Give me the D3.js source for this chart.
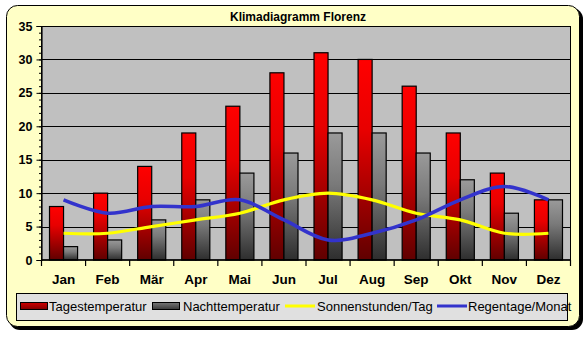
<!DOCTYPE html>
<html>
<head>
<meta charset="utf-8">
<script src="https://cdn.jsdelivr.net/npm/d3@7/dist/d3.min.js"></script>
<style>
  html, body { margin: 0; padding: 0; background: #ffffff; }
  svg { display: block; }
  text { font-family: "Liberation Sans", Arial, sans-serif; }
</style>
</head>
<body>
<svg id="chart" width="588" height="337"></svg>
<script>
// Klimadiagramm Florenz: Temperaturen als Säulen, Sonnenstunden und Regentage als Linien
const months = ["Jan", "Feb", "Mär", "Apr", "Mai", "Jun", "Jul", "Aug", "Sep", "Okt", "Nov", "Dez"];
const tagestemperatur = [8, 10, 14, 19, 23, 28, 31, 30, 26, 19, 13, 9];
const nachttemperatur = [2, 3, 6, 9, 13, 16, 19, 19, 16, 12, 7, 9];
const sonnenstunden = [4, 4, 5, 6, 7, 9, 10, 9, 7, 6, 4, 4];
const regentage = [9, 7, 8, 8, 9, 6, 3, 4, 6, 9, 11, 9];
const yTicks = [0, 5, 10, 15, 20, 25, 30, 35];
const title = "Klimadiagramm Florenz";
const legendLabels = ["Tagestemperatur", "Nachttemperatur", "Sonnenstunden/Tag", "Regentage/Monat"];

const svg = d3.select("#chart");
const defs = svg.append("defs");

// vertical gradients for the columns
function vGrad(id, stops) {
  const g = defs.append("linearGradient").attr("id", id)
    .attr("x1", 0).attr("y1", 0).attr("x2", 0).attr("y2", 1);
  stops.forEach(s => g.append("stop").attr("offset", s[0]).attr("stop-color", s[1]));
}
vGrad("gradRed", [[0, "#ff0000"], [0.35, "#e80000"], [1, "#600000"]]);
vGrad("gradGray", [[0, "#9a9a9a"], [0.4, "#7a7a7a"], [1, "#2e2e2e"]]);
function hGrad(id, stops) {
  const g = defs.append("linearGradient").attr("id", id)
    .attr("x1", 0).attr("y1", 0).attr("x2", 0).attr("y2", 1);
  stops.forEach(s => g.append("stop").attr("offset", s[0]).attr("stop-color", s[1]));
}
hGrad("legRed", [[0, "#d00000"], [1, "#800000"]]);
hGrad("legGray", [[0, "#777777"], [1, "#3a3a3a"]]);

// chart frame with drop shadow
svg.append("rect").attr("x", 9).attr("y", 8).attr("width", 574).attr("height", 322)
  .attr("rx", 11).attr("fill", "#000");
svg.append("rect").attr("x", 6.5).attr("y", 5.5).attr("width", 573).attr("height", 321)
  .attr("rx", 11).attr("fill", "#ffffc6").attr("stroke", "#000").attr("stroke-width", 1);

// title
svg.append("text").attr("x", 298).attr("y", 21).attr("text-anchor", "middle")
  .attr("font-size", 12).attr("font-weight", "bold").text(title);

// scales
const plot = { left: 41.5, right: 570.5, top: 26, bottom: 260 };
const x = d3.scaleBand().domain(months).range([plot.left, plot.right]).padding(0);
const xs = d3.scaleBand().domain(["tag", "nacht"]).range([0, x.bandwidth()])
  .paddingInner(0).paddingOuter(0.57);
const y = d3.scaleLinear().domain([0, 35]).range([plot.bottom, plot.top]);

// plot area
svg.append("rect").attr("x", plot.left).attr("y", plot.top)
  .attr("width", plot.right - plot.left).attr("height", plot.bottom - plot.top)
  .attr("fill", "#c0c0c0");

// horizontal gridlines
svg.append("g").selectAll("line").data(yTicks.slice(1, -1)).join("line")
  .attr("x1", plot.left).attr("x2", plot.right)
  .attr("y1", d => Math.round(y(d)) + 0.5).attr("y2", d => Math.round(y(d)) + 0.5)
  .attr("stroke", "#000").attr("stroke-width", 1);

// columns
const data = months.map((m, i) => ({ m, tag: tagestemperatur[i], nacht: nachttemperatur[i] }));
const colG = svg.append("g");
colG.selectAll("rect.tag").data(data).join("rect").attr("class", "tag")
  .attr("x", d => x(d.m) + xs("tag")).attr("width", xs.bandwidth())
  .attr("y", d => y(d.tag)).attr("height", d => y(0) - y(d.tag))
  .attr("fill", "url(#gradRed)").attr("stroke", "#000").attr("stroke-width", 1.2);
colG.selectAll("rect.nacht").data(data).join("rect").attr("class", "nacht")
  .attr("x", d => x(d.m) + xs("nacht")).attr("width", xs.bandwidth())
  .attr("y", d => y(d.nacht)).attr("height", d => y(0) - y(d.nacht))
  .attr("fill", "url(#gradGray)").attr("stroke", "#000").attr("stroke-width", 1.2);

// smoothed lines
const line = d3.line()
  .x((d, i) => x(months[i]) + x.bandwidth() / 2)
  .y(d => y(d))
  .curve(d3.curveCardinal.tension(0));
svg.append("path").datum(sonnenstunden).attr("d", line)
  .attr("fill", "none").attr("stroke", "#ffff00").attr("stroke-width", 3.2);
svg.append("path").datum(regentage).attr("d", line)
  .attr("fill", "none").attr("stroke", "#3333cc").attr("stroke-width", 3.6);

// plot border
svg.append("rect").attr("x", plot.left).attr("y", plot.top + 0.5)
  .attr("width", plot.right - plot.left).attr("height", plot.bottom - plot.top - 0.5)
  .attr("fill", "none").attr("stroke", "#000").attr("stroke-width", 1);

// y axis: major ticks with labels, minor ticks every unit
const yAxis = svg.append("g").attr("transform", `translate(${plot.left},0)`)
  .call(d3.axisLeft(y).tickValues(yTicks).tickSize(5).tickPadding(4));
yAxis.select(".domain").attr("stroke", "#000").attr("stroke-width", 1.2);
yAxis.selectAll("text").attr("font-size", 12.5).attr("font-weight", "bold")
  .attr("font-family", "Liberation Sans, Arial, sans-serif").attr("fill", "#000");
svg.append("g").attr("transform", `translate(${plot.left},0)`)
  .call(d3.axisLeft(y).ticks(35).tickSize(2.5).tickFormat(""))
  .call(g => g.select(".domain").remove());

// x axis: ticks on category boundaries, labels centered
const boundaries = months.map(m => x(m)).concat([plot.right]);
svg.append("g").selectAll("line").data(boundaries).join("line")
  .attr("x1", d => d).attr("x2", d => d)
  .attr("y1", plot.bottom).attr("y2", plot.bottom + 6)
  .attr("stroke", "#000").attr("stroke-width", 1.2);
svg.append("line").attr("x1", plot.left).attr("x2", plot.right)
  .attr("y1", plot.bottom).attr("y2", plot.bottom).attr("stroke", "#000").attr("stroke-width", 1.4);
svg.append("g").selectAll("text").data(months).join("text")
  .attr("x", d => x(d) + x.bandwidth() / 2).attr("y", 284)
  .attr("text-anchor", "middle").attr("font-size", 13.5).attr("font-weight", "bold")
  .text(d => d);

// legend
const lg = svg.append("g");
lg.append("rect").attr("x", 16.5).attr("y", 293.5).attr("width", 551).attr("height", 27)
  .attr("fill", "#e0e0e0").attr("stroke", "#000").attr("stroke-width", 1);
const legendItems = [
  { type: "rect", fill: "url(#legRed)", sx: 20, tx: 49 },
  { type: "rect", fill: "url(#legGray)", sx: 152, tx: 183 },
  { type: "line", color: "#ffff00", sx: 285, tx: 317 },
  { type: "line", color: "#3333cc", sx: 437, tx: 468 }
];
legendItems.forEach((it, i) => {
  if (it.type === "rect") {
    lg.append("rect").attr("x", it.sx + 0.5).attr("y", 302.5).attr("width", 27).attr("height", 7)
      .attr("fill", it.fill).attr("stroke", "#000").attr("stroke-width", 1);
  } else {
    lg.append("line").attr("x1", it.sx).attr("x2", it.sx + 30).attr("y1", 306).attr("y2", 306)
      .attr("stroke", it.color).attr("stroke-width", 3);
  }
  lg.append("text").attr("x", it.tx).attr("y", 311).attr("font-size", 13).text(legendLabels[i]);
});
</script>
</body>
</html>
